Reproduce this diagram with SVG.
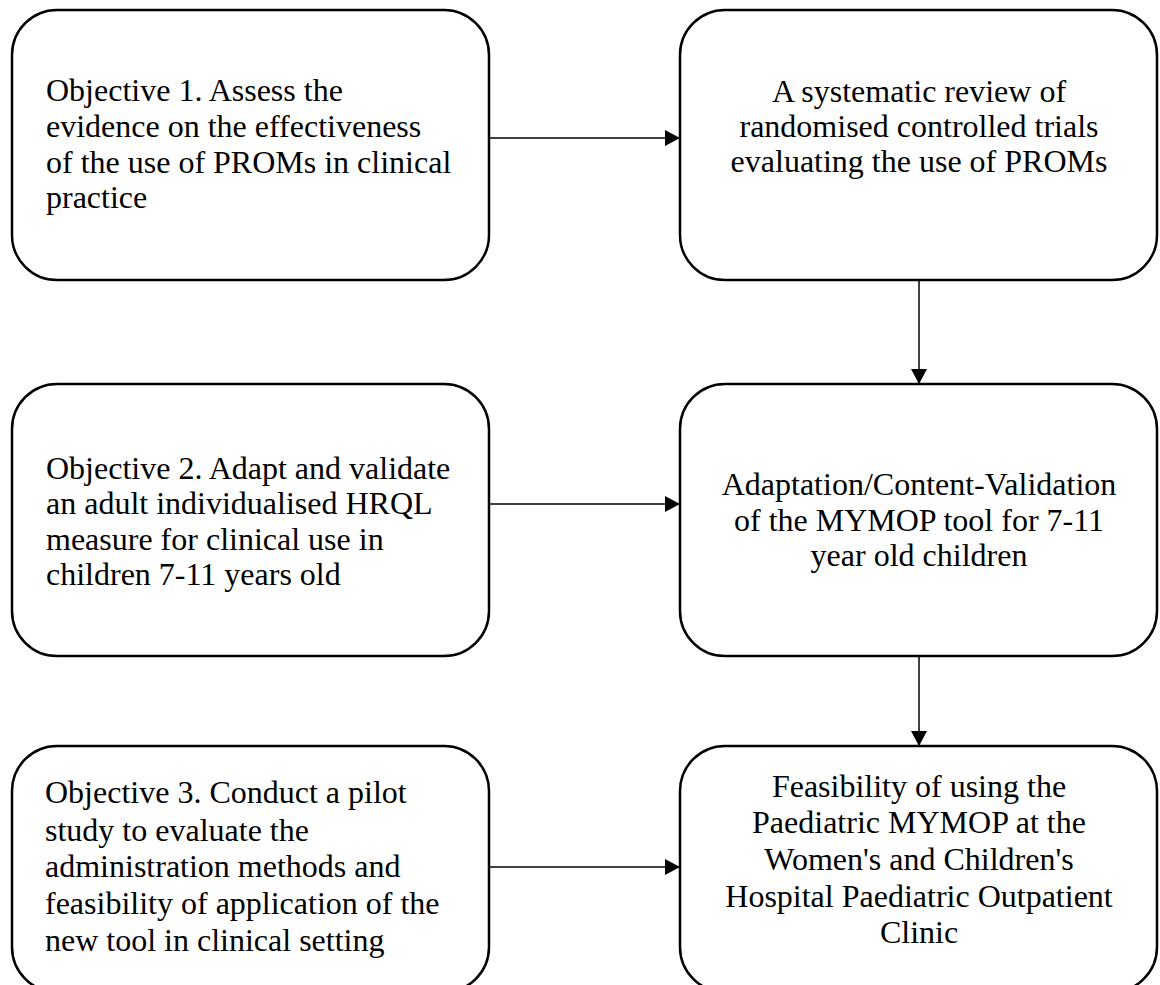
<svg xmlns="http://www.w3.org/2000/svg" width="1160" height="985" viewBox="0 0 1160 985">
  <style>
    .box { fill: #fff; stroke: #000; stroke-width: 2.5; }
    .lbl { font-family: "Liberation Serif", "Times New Roman", serif; font-size: 32px; fill: #000; }
    .mid { text-anchor: middle; }
    .conn { stroke: #000; stroke-width: 1.5; fill: none; marker-end: url(#head); }
  </style>
  <defs>
    <marker id="head" markerWidth="16" markerHeight="16" refX="15" refY="8" orient="auto" markerUnits="userSpaceOnUse">
      <path d="M0,0 L15,8 L0,16 Z" fill="#000"/>
    </marker>
  </defs>
  <rect width="1160" height="985" fill="#fff"/>

  <g id="obj1">
    <rect class="box" x="12" y="10" width="477" height="270" rx="45"/>
    <text class="lbl"><tspan x="46" y="101">Objective 1. Assess the</tspan><tspan x="46" y="137">evidence on the effectiveness</tspan><tspan x="46" y="173">of the use of PROMs in clinical</tspan><tspan x="46" y="208">practice</tspan></text>
  </g>
  <g id="review">
    <rect class="box" x="680" y="10" width="477" height="270" rx="45"/>
    <text class="lbl mid"><tspan x="919" y="102">A systematic review of</tspan><tspan x="919" y="137">randomised controlled trials</tspan><tspan x="919" y="172">evaluating the use of PROMs</tspan></text>
  </g>
  <g id="obj2">
    <rect class="box" x="12" y="384" width="477" height="272" rx="45"/>
    <text class="lbl"><tspan x="46" y="479">Objective 2. Adapt and validate</tspan><tspan x="46" y="514">an adult individualised HRQL</tspan><tspan x="46" y="550">measure for clinical use in</tspan><tspan x="46" y="585">children 7-11 years old</tspan></text>
  </g>
  <g id="adaptation">
    <rect class="box" x="680" y="384" width="477" height="272" rx="45"/>
    <text class="lbl mid"><tspan x="919" y="495">Adaptation/Content-Validation</tspan><tspan x="919" y="531">of the MYMOP tool for 7-11</tspan><tspan x="919" y="566">year old children</tspan></text>
  </g>
  <g id="obj3">
    <rect class="box" x="12" y="746" width="477" height="246" rx="45"/>
    <text class="lbl"><tspan x="45" y="803">Objective 3. Conduct a pilot</tspan><tspan x="45" y="841">study to evaluate the</tspan><tspan x="45" y="877">administration methods and</tspan><tspan x="45" y="914">feasibility of application of the</tspan><tspan x="45" y="951">new tool in clinical setting</tspan></text>
  </g>
  <g id="feasibility">
    <rect class="box" x="680" y="746" width="477" height="246" rx="45"/>
    <text class="lbl mid"><tspan x="919" y="797">Feasibility of using the</tspan><tspan x="919" y="833">Paediatric MYMOP at the</tspan><tspan x="919" y="870">Women's and Children's</tspan><tspan x="919" y="907">Hospital Paediatric Outpatient</tspan><tspan x="919" y="943">Clinic</tspan></text>
  </g>

  <g id="connectors">
    <line class="conn" x1="489" y1="138" x2="680" y2="138"/>
    <line class="conn" x1="489" y1="504" x2="680" y2="504"/>
    <line class="conn" x1="489" y1="867" x2="680" y2="867"/>
    <line class="conn" x1="919" y1="280" x2="919" y2="384"/>
    <line class="conn" x1="919" y1="656" x2="919" y2="746"/>
  </g>
</svg>
